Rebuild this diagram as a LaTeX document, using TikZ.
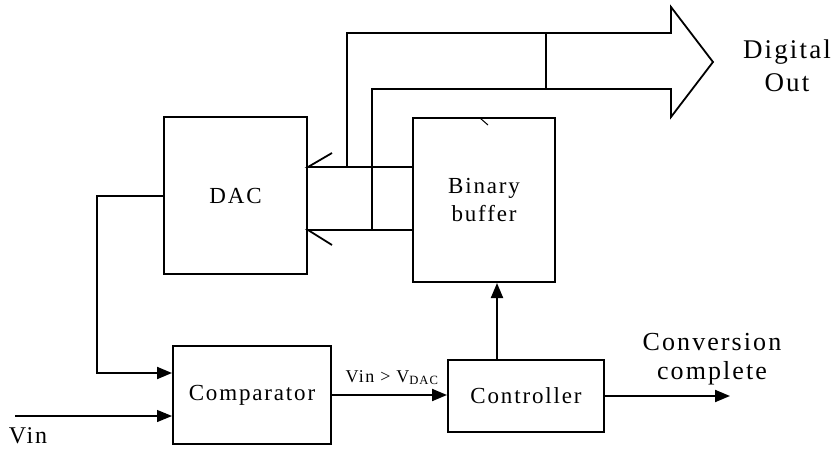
\documentclass[tikz,border=0pt]{standalone}
\usepackage{fontspec}
\setmainfont{Liberation Serif}[LetterSpace=8]
\usetikzlibrary{arrows.meta, positioning}
\tikzstyle{block} = [rectangle, draw=black, line width=2pt,
inner sep=0pt, align=center,
font=\fontsize{23}{28}\selectfont]
\tikzstyle{signal} = [line width=2pt, -{Triangle[length=15pt, width=12pt]}]
\tikzstyle{bus} = [line width=1.8pt, line join=miter]

\begin{document}
\begin{tikzpicture}[x=1pt, y=-1pt]
        \useasboundingbox (0,0) rectangle (836,452);

        % Nodes
        \node (dac) [block, minimum width=143pt, minimum height=157pt] at (235.5,195.5) {DAC};
        \node (buf) [block, minimum width=142pt, minimum height=164pt] at (484,200) {Binary\\buffer};
        \node (comp) [block, minimum width=158pt, minimum height=98pt] at (252,395) {Comparator};
        \node (ctrl) [block, minimum width=156pt, minimum height=72pt] at (526,396) {Controller};

        % Labels
        \node (vintext) [anchor=base, font=\fontsize{24}{24}\selectfont] at (28,443) {Vin};
        \node (cmptext) [anchor=base, font=\fontsize{18}{18}\selectfont] at (392,382) {Vin > V\textsubscript{DAC}};
        \node (donetext) [align=center, font=\fontsize{26}{29}\selectfont] at (712,359) {Conversion\\complete};
        \node (douttext) [align=center, font=\fontsize{27}{33}\selectfont] at (787,66) {Digital\\Out};

        % Connections
        \coordinate (vin) at (15,416);
        \coordinate (done) at (730,396);
        \draw [signal] (dac.west) -- ++(-66,0) |- ([yshift=22pt]comp.west);
        \draw [signal, line width=1.2pt] (vin) -- (vin -| comp.west);
        \draw [signal] (comp.east) -- (comp.east -| ctrl.west);
        \draw [signal] ([xshift=-29pt]ctrl.north) -- ([xshift=-29pt]ctrl.north |- buf.south);
        \draw [signal] (ctrl.east) -- (done);

        % Bus
        \coordinate (busA) at ([yshift=33pt]buf.west);
        \coordinate (busB) at ([yshift=-30pt]buf.west);
        \draw [bus] (busA) -- (busA -| dac.east) -- ++(24,-14);
        \draw [bus] (busB) -- (busB -| dac.east) -- ++(24,15);
        \draw [bus] (347,167) -- (347,33) -- (671,33) -- (671,7) -- (713,62)
              -- (671,117) -- (671,89) -- (372,89) -- (372,230);
        \draw [line width=1.2pt] (546,33) -- (546,89);
        \draw [line width=1pt] (480,118) -- (488,125);

\end{tikzpicture}
\end{document}
